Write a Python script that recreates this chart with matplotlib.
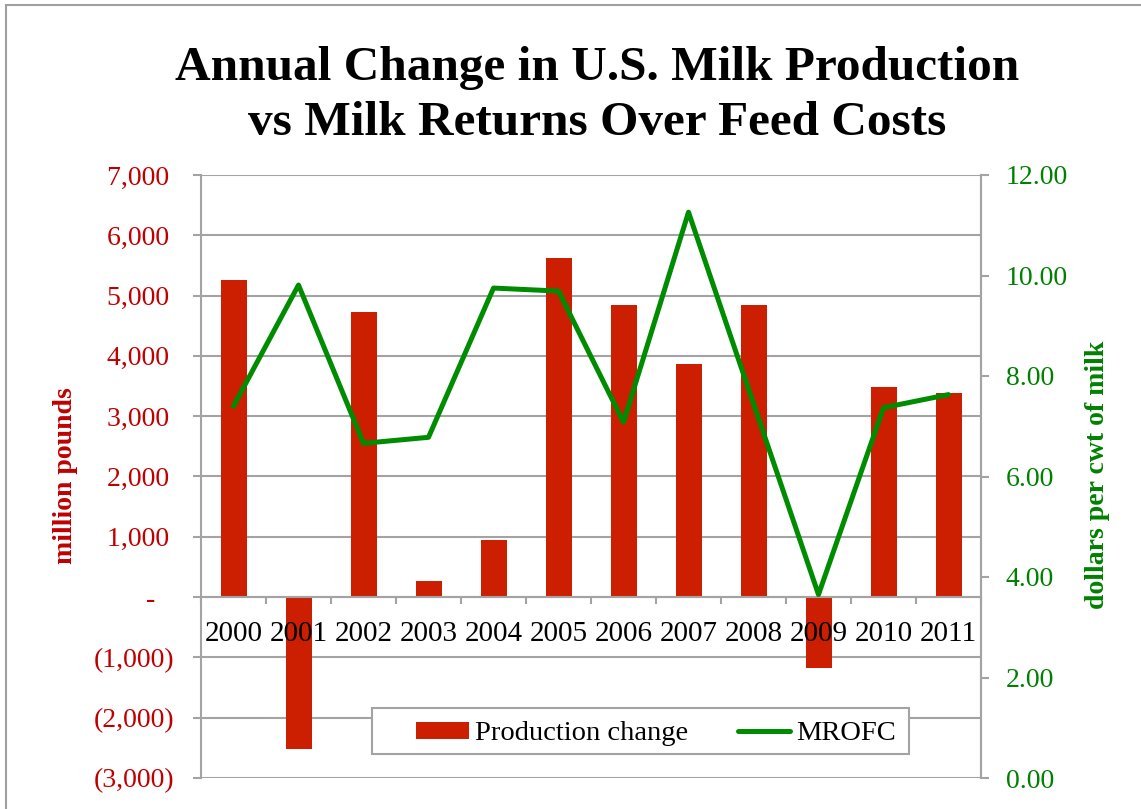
import matplotlib
matplotlib.use("Agg")
import matplotlib.pyplot as plt
from matplotlib.ticker import FuncFormatter, FixedLocator
import numpy as np

# Данные
years = ["2000", "2001", "2002", "2003", "2004", "2005",
         "2006", "2007", "2008", "2009", "2010", "2011"]
production_change = [5260, -2520, 4734, 266, 947, 5631,
                     4850, 3870, 4850, -1175, 3488, 3389]
mrofc = [7.40, 9.81, 6.66, 6.78, 9.75, 9.69,
         7.08, 11.26, 7.45, 3.65, 7.37, 7.63]

left_ticks = [-3000, -2000, -1000, 0, 1000, 2000, 3000, 4000, 5000, 6000, 7000]
right_ticks = [0, 2, 4, 6, 8, 10, 12]

BAR_RED = "#CC1E00"
TXT_RED = "#C00000"
LINE_GREEN = "#008C00"
TXT_GREEN = "#008000"
GRID = "#A3A3A3"

plt.rcParams["font.family"] = ["Liberation Serif", "DejaVu Serif"]

W, H = 1141, 809
fig = plt.figure(figsize=(W / 100, H / 100), dpi=100)
fig.patch.set_facecolor("white")

# рамка вокруг всей диаграммы (правый и нижний края обрезаны)
fig.patches.append(plt.Rectangle((6 / W, -0.1), 1.2, 1.1 - 5 / H,
                                 transform=fig.transFigure, fill=False,
                                 edgecolor="#A0A0A0", linewidth=1.5))

ax = fig.add_axes([201 / W, 1 - 778 / H, (981 - 201) / W, (778 - 175) / H])
x = np.arange(len(years))

# Столбцы: изменение производства
ax.bar(x, production_change, width=0.4, color=BAR_RED, zorder=2,
       label="Production change")
ax.set_xlim(-0.5, len(years) - 0.5)
ax.set_ylim(-3000, 7000)

# сетка под столбцами, подписи оси - поверх столбцов
for t in left_ticks:
    ax.axhline(t, color=GRID, linewidth=1.5, zorder=0.5)
ax.set_axisbelow(False)

ax.yaxis.set_major_locator(FixedLocator(left_ticks))


def fmt_left(v, pos):
    if v == 0:
        return "-\u2002\u2009"
    if v < 0:
        return "({:,.0f})".format(-v)
    return "{:,.0f}\u2009".format(v)


ax.yaxis.set_major_formatter(FuncFormatter(fmt_left))
ax.tick_params(axis="y", colors=GRID, labelcolor=TXT_RED, labelsize=20,
               length=6, width=1.5, pad=13, direction="out")

# ось X проходит через ноль
ax.spines["bottom"].set_position(("data", 0))
ax.spines["top"].set_visible(False)
for s in ["bottom", "left", "right"]:
    ax.spines[s].set_color(GRID)
    ax.spines[s].set_linewidth(1.5)
ax.xaxis.set_major_locator(FixedLocator(np.arange(-0.5, len(years), 1.0)))
ax.xaxis.set_major_formatter(FuncFormatter(lambda v, p: ""))
ax.set_xticks(x, years, minor=True)
ax.tick_params(axis="x", which="major", colors=GRID, length=5, width=1.5,
               direction="out")
ax.tick_params(axis="x", which="minor", length=0, labelsize=21, pad=17.5,
               labelcolor="black")

# Линия: MROFC на правой оси
ax2 = ax.twinx()
ax2.plot(x, mrofc, color=LINE_GREEN, linewidth=3.6, label="MROFC",
         solid_joinstyle="round", solid_capstyle="round")
ax2.set_ylim(0, 12)
ax2.yaxis.set_major_locator(FixedLocator(right_ticks))
ax2.yaxis.set_major_formatter(FuncFormatter(lambda v, p: "{:.2f}".format(v)))
ax2.tick_params(axis="y", colors=GRID, labelcolor=TXT_GREEN, labelsize=20,
                length=6, width=1.5, pad=12, direction="out")
for s in ["top", "bottom", "left"]:
    ax2.spines[s].set_visible(False)
ax2.spines["right"].set_color(GRID)
ax2.spines["right"].set_linewidth(1.5)

# Заголовок в две строки
fig.text(597 / W, 1 - 80 / H, "Annual Change in U.S. Milk Production",
         ha="center", va="baseline", fontsize=35.5, fontweight="bold")
fig.text(597 / W, 1 - 135 / H, "vs Milk Returns Over Feed Costs",
         ha="center", va="baseline", fontsize=35.5, fontweight="bold")

# Подписи осей
fig.text(65 / W, 1 - 476 / H, "million pounds", rotation=90,
         ha="center", va="center", fontsize=20, fontweight="bold",
         color=TXT_RED)
fig.text(1097 / W, 1 - 475 / H, "dollars per cwt of milk", rotation=90,
         ha="center", va="center", fontsize=20, fontweight="bold",
         color=TXT_GREEN)

# Легенда: рамка отдельно, чтобы получить широкие поля как в оригинале
fig.patches.append(plt.Rectangle((372 / W, 1 - 754 / H), (909 - 372) / W,
                                 (754 - 708) / H, transform=fig.transFigure,
                                 facecolor="white", edgecolor=GRID,
                                 linewidth=1.5, zorder=3))
h1, l1 = ax.get_legend_handles_labels()
h2, l2 = ax2.get_legend_handles_labels()
leg = fig.legend(h1 + h2, l1 + l2, loc="center",
                 bbox_to_anchor=(656 / W, 1 - 734 / H), ncol=2,
                 fontsize=20.5, frameon=False,
                 handlelength=1.85, handletextpad=0.2, columnspacing=1.75,
                 borderpad=0.3, handleheight=0.5)
leg.set_zorder(5)

fig.savefig("out.png", dpi=100)
plt.close(fig)
